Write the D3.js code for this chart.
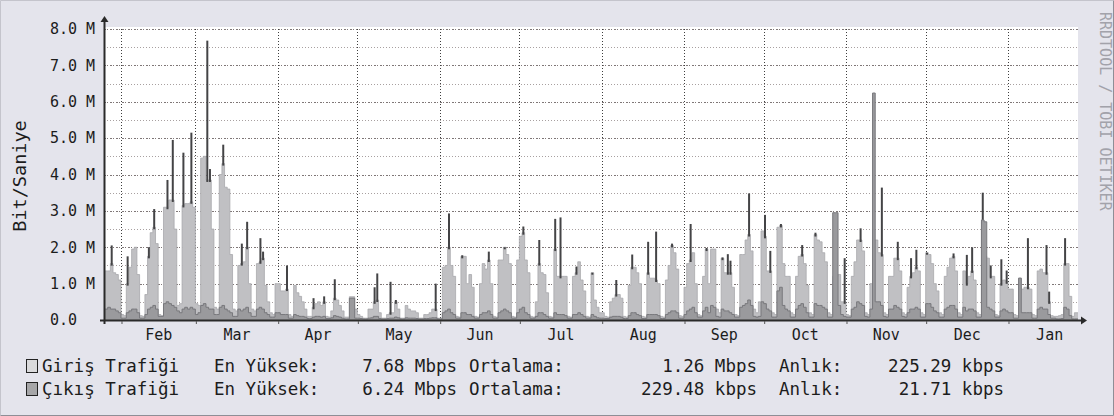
<!DOCTYPE html>
<html><head><meta charset="utf-8">
<script src="https://cdn.jsdelivr.net/npm/d3@7"></script>
<style>
html,body{margin:0;padding:0;background:#e4e4ec;}
svg{display:block;}
text{font-family:"DejaVu Sans Mono",monospace;fill:#1c1c1c;}
</style></head><body>
<svg id="chart" width="1114" height="416"></svg>
<script>
// ---------------- data (values in Mbit/s) ----------------
const dataStart = "2014-01-25";   // first daily sample (Saturday)
// daily input traffic, rows are Mon..Sun weeks (first row Sat, Sun)
const inTraffic = [
  1.35, 1.35,
  1.35, 1.55, 1.3, 1.25, 1.1, 0.15, 0.12,
  1.0, 1.45, 1.95, 2.0, 1.25, 0.12, 0.1,
  0.7, 1.75, 2.4, 2.55, 2.1, 0.15, 0.12,
  3.1, 3.1, 3.3, 3.3, 2.5, 0.4, 0.45,
  3.15, 3.2, 3.2, 3.25, 3.1, 0.45, 0.4,
  4.45, 4.5, 3.85, 3.85, 2.5, 0.35, 0.3,
  4.0, 4.3, 3.65, 3.6, 1.8, 0.3, 0.25,
  1.5, 1.55, 1.6, 2.0, 1.0, 0.3, 0.25,
  1.55, 1.6, 1.7, 0.95, 0.5, 0.2, 0.15,
  1.0, 1.0, 0.8, 0.8, 0.85, 0.15, 0.1,
  0.95, 0.75, 0.65, 0.5, 0.3, 0.1, 0.1,
  0.35, 0.45, 0.5, 0.4, 0.5, 0.1, 0.08,
  0.25, 0.6, 0.55, 0.4, 0.25, 0.08, 0.08,
  0.64, 0.64, 0.3, 0.15, 0.1, 0.05, 0.05,
  0.3, 0.3, 0.5, 0.55, 0.2, 0.05, 0.05,
  0.15, 0.2, 0.2, 0.5, 0.3, 0.05, 0.05,
  0.4, 0.3, 0.25, 0.25, 0.2, 0.05, 0.05,
  0.15, 0.15, 0.2, 0.3, 0.3, 0.05, 0.05,
  1.45, 1.5, 2.0, 1.5, 1.2, 0.1, 0.08,
  1.75, 1.75, 1.0, 1.25, 0.9, 0.1, 0.08,
  1.0, 1.55, 1.4, 1.65, 1.0, 0.1, 0.08,
  1.65, 1.65, 2.0, 1.8, 1.55, 0.1, 0.08,
  1.65, 2.3, 2.4, 1.65, 1.3, 0.1, 0.08,
  0.5, 1.55, 1.3, 1.25, 0.75, 0.1, 0.08,
  1.95, 1.2, 1.2, 1.2, 1.2, 0.1, 0.08,
  1.2, 1.3, 1.6, 1.1, 0.8, 0.1, 0.08,
  1.3, 0.55, 0.35, 0.2, 0.2, 0.1, 0.08,
  0.5, 0.6, 0.7, 0.7, 0.6, 0.1, 0.08,
  0.95, 1.45, 1.45, 1.3, 1.0, 0.1, 0.08,
  1.3, 1.15, 1.15, 1.1, 1.0, 0.1, 0.08,
  1.1, 1.5, 2.05, 1.85, 1.4, 0.12, 0.1,
  0.9, 1.55, 1.65, 1.85, 1.0, 0.15, 0.12,
  1.2, 1.95, 1.0, 1.95, 1.95, 0.3, 0.2,
  1.7, 1.3, 1.3, 1.3, 0.9, 0.15, 0.12,
  1.8, 1.8, 2.2, 2.35, 1.9, 0.3, 0.2,
  0.5, 2.45, 2.3, 1.35, 1.35, 0.2, 0.15,
  2.55, 2.6, 1.55, 1.2, 1.2, 0.2, 0.15,
  1.2, 1.75, 1.8, 1.55, 0.95, 0.2, 0.15,
  2.35, 2.2, 2.15, 1.85, 1.6, 0.2, 0.15,
  1.2, 1.2, 1.25, 0.5, 0.5, 0.15, 0.12,
  1.2, 1.6, 2.2, 2.2, 1.9, 0.2, 0.15,
  1.0, 2.2, 2.2, 1.85, 1.8, 0.2, 0.15,
  1.2, 1.2, 1.7, 1.7, 1.35, 0.2, 0.15,
  0.9, 1.2, 1.3, 1.45, 1.35, 0.2, 0.15,
  1.85, 1.8, 1.55, 1.0, 0.8, 0.2, 0.15,
  1.2, 1.45, 1.7, 1.75, 1.35, 0.2, 0.15,
  1.35, 1.0, 1.2, 1.35, 1.1, 0.2, 0.15,
  2.7, 1.75, 1.7, 1.2, 1.2, 0.15, 0.12,
  1.0, 1.1, 1.05, 0.85, 0.85, 0.15, 0.12,
  1.15, 0.85, 0.9, 0.9, 0.85, 0.15, 0.12,
  1.35, 1.4, 1.3, 1.3, 0.5, 0.12, 0.1,
  0.1, 0.12, 0.15, 1.55, 1.55, 0.65, 0.1,
  0.2, 0.2
];
// daily output traffic, same layout
const outTraffic = [
  0.3, 0.3,
  0.35, 0.3, 0.3, 0.25, 0.2, 0.05, 0.05,
  0.2, 0.25, 0.3, 0.3, 0.2, 0.05, 0.05,
  0.15, 0.3, 0.35, 0.4, 0.3, 0.1, 0.1,
  0.45, 0.5, 0.45, 0.4, 0.35, 0.25, 0.2,
  0.3, 0.35, 0.3, 0.35, 0.3, 0.15, 0.2,
  0.4, 0.45, 0.35, 0.3, 0.3, 0.15, 0.15,
  0.35, 0.4, 0.3, 0.25, 0.2, 0.1, 0.1,
  0.3, 0.25, 0.3, 0.35, 0.2, 0.1, 0.1,
  0.3, 0.35, 0.3, 0.2, 0.15, 0.08, 0.08,
  0.2, 0.2, 0.15, 0.15, 0.15, 0.05, 0.05,
  0.15, 0.12, 0.1, 0.1, 0.08, 0.04, 0.04,
  0.08, 0.1, 0.1, 0.08, 0.1, 0.04, 0.04,
  0.06, 0.12, 0.1, 0.08, 0.05, 0.03, 0.03,
  0.6, 0.6, 0.05, 0.05, 0.04, 0.03, 0.03,
  0.05, 0.06, 0.1, 0.1, 0.04, 0.03, 0.03,
  0.04, 0.05, 0.05, 0.08, 0.06, 0.03, 0.03,
  0.06, 0.05, 0.05, 0.05, 0.04, 0.03, 0.03,
  0.04, 0.04, 0.05, 0.06, 0.06, 0.03, 0.03,
  0.2, 0.25, 0.3, 0.2, 0.15, 0.05, 0.05,
  0.2, 0.2, 0.15, 0.15, 0.1, 0.05, 0.05,
  0.15, 0.2, 0.2, 0.25, 0.15, 0.05, 0.05,
  0.2, 0.25, 0.3, 0.25, 0.2, 0.05, 0.05,
  0.2, 0.3, 0.35, 0.2, 0.15, 0.05, 0.05,
  0.1, 0.2, 0.2, 0.15, 0.1, 0.05, 0.05,
  0.2, 0.15, 0.15, 0.15, 0.12, 0.05, 0.05,
  0.15, 0.15, 0.2, 0.15, 0.1, 0.05, 0.05,
  0.15, 0.1, 0.06, 0.05, 0.05, 0.04, 0.04,
  0.08, 0.1, 0.1, 0.1, 0.08, 0.04, 0.04,
  0.12, 0.2, 0.2, 0.15, 0.12, 0.04, 0.04,
  0.15, 0.15, 0.15, 0.15, 0.12, 0.04, 0.04,
  0.15, 0.2, 0.25, 0.25, 0.2, 0.05, 0.05,
  0.15, 0.25, 0.3, 0.35, 0.2, 0.08, 0.08,
  0.25, 0.35, 0.2, 0.4, 0.35, 0.1, 0.08,
  0.3, 0.25, 0.25, 0.2, 0.15, 0.08, 0.08,
  0.35, 0.4, 0.45, 0.55, 0.4, 0.1, 0.08,
  0.1, 0.5, 0.45, 0.3, 0.25, 0.08, 0.08,
  0.8, 0.9, 0.4, 0.3, 0.25, 0.08, 0.08,
  0.3, 0.4, 0.45, 0.35, 0.2, 0.08, 0.08,
  0.45, 0.4, 0.4, 0.35, 0.3, 0.08, 0.08,
  2.95, 2.95, 0.4, 0.15, 0.1, 0.08, 0.08,
  0.3, 0.35, 0.5, 0.45, 0.4, 0.1, 0.08,
  0.3, 6.24, 0.5, 0.5, 0.4, 0.1, 0.08,
  0.3, 0.3, 0.4, 0.35, 0.3, 0.1, 0.08,
  0.2, 0.3, 0.3, 0.35, 0.3, 0.08, 0.08,
  0.45, 0.45, 0.35, 0.25, 0.2, 0.08, 0.08,
  0.3, 0.35, 0.4, 0.4, 0.3, 0.08, 0.08,
  0.35, 0.25, 0.3, 0.3, 0.25, 0.08, 0.08,
  2.75, 2.7, 0.35, 0.3, 0.25, 0.08, 0.08,
  0.25, 0.3, 0.25, 0.2, 0.2, 0.05, 0.05,
  1.15, 0.2, 0.2, 0.2, 0.2, 0.05, 0.05,
  0.3, 0.35, 0.3, 0.3, 0.15, 0.05, 0.05,
  0.03, 0.03, 0.04, 0.35, 0.3, 0.12, 0.03,
  0.03, 0.03
];
// short dark peak spikes of input traffic [day, Mbit/s]
const inPeaks = [
  ["2014-01-28",2.05],["2014-02-03",1.75],["2014-02-11",2.0],["2014-02-13",3.05],
  ["2014-02-18",3.85],["2014-02-20",4.95],["2014-02-24",4.6],["2014-02-27",5.15],
  ["2014-03-05",7.68],["2014-03-06",4.15],["2014-03-11",4.82],["2014-03-18",2.1],
  ["2014-03-20",2.7],["2014-03-25",2.25],["2014-03-26",1.88],["2014-04-04",1.5],
  ["2014-04-14",0.6],["2014-04-18",0.65],["2014-04-22",1.12],["2014-05-07",0.9],
  ["2014-05-08",1.28],["2014-05-13",1.05],["2014-05-15",0.55],["2014-05-30",1.0],
  ["2014-06-04",2.93],["2014-06-09",1.78],["2014-06-19",1.88],["2014-06-25",2.0],
  ["2014-07-02",2.57],["2014-07-08",2.2],["2014-07-14",2.78],["2014-07-16",2.82],
  ["2014-07-22",1.47],["2014-07-28",1.3],["2014-08-06",1.1],["2014-08-12",1.8],
  ["2014-08-18",2.15],["2014-08-21",2.43],["2014-08-27",2.1],["2014-09-03",2.64],
  ["2014-09-09",1.98],["2014-09-15",1.72],["2014-09-17",1.81],["2014-09-18",1.63],
  ["2014-09-25",3.48],["2014-10-01",2.89],["2014-10-03",1.9],["2014-10-07",2.64],
  ["2014-10-15",2.06],["2014-10-20",2.4],["2014-10-31",1.7],["2014-11-06",2.52],
  ["2014-11-14",3.64],["2014-11-20",2.15],["2014-11-25",1.7],["2014-11-27",1.93],
  ["2014-12-01",1.85],["2014-12-11",1.83],["2014-12-16",1.79],["2014-12-18",2.0],
  ["2014-12-22",3.5],["2014-12-25",1.5],["2014-12-29",1.67],["2014-12-31",1.36],
  ["2015-01-08",2.25],["2015-01-15",2.06],["2015-01-16",0.78],["2015-01-22",2.25]
];
const yTicks = [0, 1, 2, 3, 4, 5, 6, 7, 8];
const monthLabels = ["Feb","Mar","Apr","May","Jun","Jul","Aug","Sep","Oct","Nov","Dec","Jan"];
const seriesNames = ["Giriş Trafiği", "Çıkış Trafiği"];
const maxLabel = "En Yüksek:";
const avgLabel = "Ortalama:";
const curLabel = "Anlık:";
const maxValues = ["7.68 Mbps", "6.24 Mbps"];
const avgValues = ["1.26 Mbps", "229.48 kbps"];
const curValues = ["225.29 kbps", "21.71 kbps"];
const yTitle = "Bit/Saniye";
const watermark = "RRDTOOL / TOBI OETIKER";

// ---------------- drawing ----------------
const svg = d3.select("#chart");
const W = 1114, H = 416;
const L = 104, R = 1078, T = 29, B = 320;
const parse = d3.timeParse("%Y-%m-%d");
const start = parse(dataStart);

const x = d3.scaleTime()
  .domain([new Date(2014, 0, 25, 14, 24), new Date(2015, 0, 27, 8, 38)])
  .range([L, R]);
const y = d3.scaleLinear().domain([0, 8]).range([B, T]);

// background + frame
svg.append("rect").attr("width", W).attr("height", H).attr("fill", "#e4e4ec");
svg.append("path").attr("d", `M0.5,${H-0.5}V0.5H${W-0.5}`).attr("fill","none").attr("stroke","#c4c4cc");
svg.append("path").attr("d", `M0.5,${H-0.5}H${W-0.5}V0.5`).attr("fill","none").attr("stroke","#8e8e96");
svg.append("rect").attr("x", L).attr("y", T - 2).attr("width", R - L).attr("height", B - T + 2).attr("fill", "#ffffff");

// grid
const gridG = svg.append("g");
const halfSteps = d3.range(1, 17).map(d => d / 2);
gridG.selectAll("line.h").data(halfSteps).join("line")
  .attr("x1", L).attr("x2", R)
  .attr("y1", d => Math.round(y(d)) + 0.5).attr("y2", d => Math.round(y(d)) + 0.5)
  .attr("stroke", d => Number.isInteger(d) ? "#7f7777" : "#a8a0a0")
  .attr("stroke-width", 1)
  .attr("stroke-dasharray", d => Number.isInteger(d) ? "2,1,1,2" : "1,2");
const months = d3.timeMonth.range(d3.timeMonth.ceil(x.domain()[0]), x.domain()[1]);
gridG.selectAll("line.v").data(months).join("line")
  .attr("y1", T).attr("y2", B)
  .attr("x1", d => Math.round(x(d)) + 0.5).attr("x2", d => Math.round(x(d)) + 0.5)
  .attr("stroke", "#3e3e3e").attr("stroke-width", 1).attr("stroke-dasharray", "1,2");

// clip
svg.append("clipPath").attr("id", "plotclip")
  .append("rect").attr("x", L).attr("y", T - 2).attr("width", R - L).attr("height", B - T + 2);
const dataG = svg.append("g").attr("clip-path", "url(#plotclip)");

function toPoints(arr) {
  const pts = arr.map((v, i) => ({ t: d3.timeDay.offset(start, i), v }));
  pts.push({ t: d3.timeDay.offset(start, arr.length), v: arr[arr.length - 1] });
  return pts;
}
const area = d3.area().curve(d3.curveStepAfter)
  .x(d => x(d.t)).y0(y(0)).y1(d => y(d.v));
const line = d3.line().curve(d3.curveStepAfter)
  .x(d => x(d.t)).y(d => y(d.v));

const inPts = toPoints(inTraffic);
const outPts = toPoints(outTraffic);
dataG.append("path").datum(inPts).attr("d", area).attr("fill", "#c0c0c3");
dataG.append("path").datum(inPts).attr("d", line).attr("fill", "none")
  .attr("stroke", "#a8a8ac").attr("stroke-width", 0.8);

// peak spikes
dataG.selectAll("line.peak").data(inPeaks).join("line")
  .attr("x1", d => x(d3.timeHour.offset(parse(d[0]), 12)))
  .attr("x2", d => x(d3.timeHour.offset(parse(d[0]), 12)))
  .attr("y1", d => y(d[1]))
  .attr("y2", d => {
    const i = d3.timeDay.count(start, parse(d[0]));
    return y(Math.min(d[1], inTraffic[i] !== undefined ? inTraffic[i] : 0)) + 2;
  })
  .attr("stroke", "#444446").attr("stroke-width", 2);

dataG.append("path").datum(outPts).attr("d", area).attr("fill", "#9a9a9d");
dataG.append("path").datum(outPts).attr("d", line).attr("fill", "none")
  .attr("stroke", "#78787c").attr("stroke-width", 1);

// axes lines with arrows
svg.append("line").attr("x1", L - 4).attr("x2", R + 4).attr("y1", B + 0.5).attr("y2", B + 0.5)
  .attr("stroke", "#2a2a2a").attr("stroke-width", 2);
svg.append("path").attr("d", `M${R+3},${B-3.5}L${R+9},${B+0.5}L${R+3},${B+4.5}Z`).attr("fill", "#2a2a2a");
svg.append("line").attr("x1", L + 0.5).attr("x2", L + 0.5).attr("y1", B + 4).attr("y2", T - 8)
  .attr("stroke", "#2a2a2a").attr("stroke-width", 2);
svg.append("path").attr("d", `M${L-3.5},${T-7}L${L+0.5},${T-13}L${L+4.5},${T-7}Z`).attr("fill", "#2a2a2a");

// x ticks (month boundaries)
const xTickAxis = d3.axisBottom(x).tickValues(months).tickSize(3).tickFormat("");
const xt = svg.append("g").attr("transform", `translate(0.5,${B + 1})`).call(xTickAxis);
xt.select(".domain").remove();
xt.selectAll("line").attr("stroke", "#555");

// x labels at mid-month
const mids = months.map(m => new Date((+m + +d3.timeMonth.offset(m, 1)) / 2));
const xLabAxis = d3.axisBottom(x).tickValues(mids).tickSize(0).tickPadding(0)
  .tickFormat((d, i) => monthLabels[i]);
const xl = svg.append("g").attr("transform", `translate(0,${B + 9})`).call(xLabAxis);
xl.select(".domain").remove();
xl.selectAll("text").attr("font-size", 15).attr("font-family", "DejaVu Sans Mono")
  .attr("fill", "#1c1c1c").attr("dy", "0.71em");

// y labels
const yAxis = d3.axisLeft(y).tickValues(yTicks).tickSize(0)
  .tickFormat(d => d === 0 ? "0.0" : d.toFixed(1) + " M");
const ya = svg.append("g").attr("transform", `translate(${L},0)`).call(yAxis);
ya.select(".domain").remove();
ya.selectAll("text").attr("text-anchor", "start").attr("x", 50 - L)
  .attr("font-size", 15).attr("font-family", "DejaVu Sans Mono").attr("fill", "#1c1c1c");

// y title
svg.append("text").attr("transform", "translate(26,176) rotate(-90)")
  .attr("text-anchor", "middle").attr("font-size", 18.5).text(yTitle);

// watermark
svg.append("text").attr("transform", "translate(1100,12) rotate(90)")
  .attr("font-size", 15).style("fill", "#a2a2aa").text(watermark);

// legend
const fs = 17.5;
const rowsY = [372, 395];
const boxFill = ["#dadadc", "#a6a6a8"];
seriesNames.forEach((name, i) => {
  const g = svg.append("g");
  const yy = rowsY[i];
  g.append("rect").attr("x", 26.5).attr("y", yy - 12.5).attr("width", 11).attr("height", 13)
    .attr("fill", boxFill[i]).attr("stroke", "#222").attr("stroke-width", 1);
  g.append("text").attr("x", 42).attr("y", yy).attr("font-size", fs).text(name);
  g.append("text").attr("x", 214).attr("y", yy).attr("font-size", fs).text(maxLabel);
  g.append("text").attr("x", 457).attr("y", yy).attr("font-size", fs).attr("text-anchor", "end").text(maxValues[i]);
  g.append("text").attr("x", 469).attr("y", yy).attr("font-size", fs).text(avgLabel);
  g.append("text").attr("x", 757).attr("y", yy).attr("font-size", fs).attr("text-anchor", "end").text(avgValues[i]);
  g.append("text").attr("x", 779).attr("y", yy).attr("font-size", fs).text(curLabel);
  g.append("text").attr("x", 1004).attr("y", yy).attr("font-size", fs).attr("text-anchor", "end").text(curValues[i]);
});
</script>
</body></html>
